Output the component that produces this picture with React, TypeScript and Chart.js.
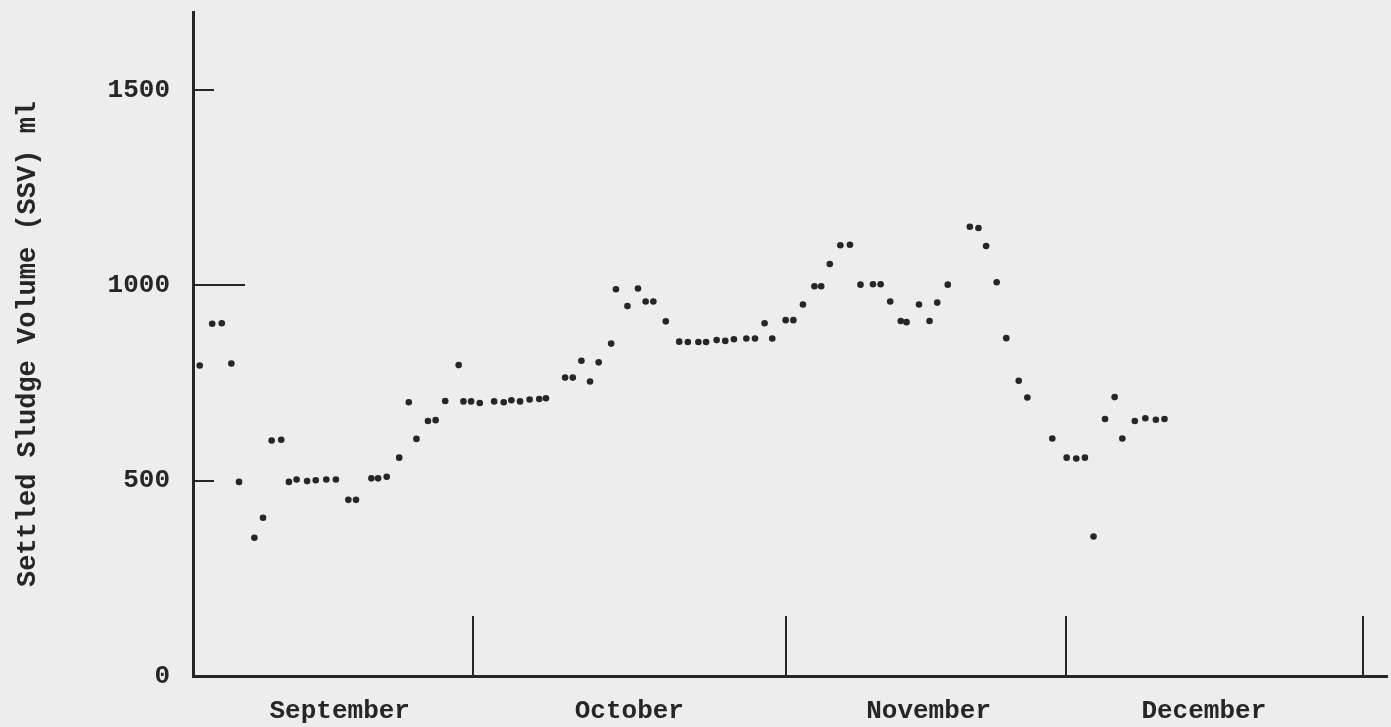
import React, { useEffect, useRef } from "react";
import { Chart, registerables } from "chart.js";

Chart.register(...registerables);

// Day offset from 1 September (x) and settled sludge volume in ml (y)
const DAYS = [
  0.7, 2.0, 3.0, 4.0, 4.8, 6.4, 7.3, 8.2, 9.2, 10.0, 10.8, 11.9, 12.8, 13.9, 14.9, 16.2, 17.0,
  18.6, 19.3, 20.2, 21.5, 22.5, 23.3, 24.5, 25.3, 26.3, 27.7, 28.2, 29.0, 29.9,
  31.4, 32.4, 33.2, 34.1, 35.1, 36.1, 36.8, 38.8, 39.6, 40.5, 41.4, 42.3, 43.6, 44.1,
  45.3, 46.4, 47.2, 48.0, 49.3, 50.7, 51.6, 52.7, 53.5, 54.6, 55.5, 56.4, 57.7, 58.6,
  59.6, 60.4, 61.8, 62.6, 63.6, 64.8, 65.5, 66.4, 67.5, 68.5, 69.6, 70.9, 71.7, 72.7,
  73.8, 74.4, 75.7, 76.8, 77.6, 78.7, 81.0, 81.9, 82.7, 83.8, 84.8, 86.1, 87.0, 89.6,
  91.1, 92.1, 93.0, 93.9, 95.1, 96.1, 96.9, 98.2, 99.3, 100.4, 101.3,
];
const SSV = [
  795, 902, 903, 800, 497, 354, 405, 603, 605, 497, 503, 499, 501, 503, 503, 451, 451,
  506, 506, 510, 559, 701, 607, 653, 655, 704, 796, 703, 703, 699,
  703, 701, 706, 703, 708, 709, 711, 764, 764, 807, 754, 803, 851, 990,
  947, 992, 959, 959, 908, 856, 855, 855, 855, 860, 858, 862, 864, 864,
  903, 864, 911, 911, 951, 998, 998, 1055, 1103, 1104, 1002, 1003, 1003, 959,
  909, 906, 951, 909, 956, 1002, 1150, 1147, 1101, 1008, 865, 756, 713, 608,
  559, 557, 559, 357, 658, 714, 608, 653, 660, 656, 658,
];

const Y_TICKS = [0, 500, 1000, 1500];
const REFERENCE_LEVEL = 1000;
const MONTHS = ["September", "October", "November", "December"];
const MONTH_LABEL_DAYS = [15.3, 45.5, 76.7, 105.4];
const MONTH_BOUNDARY_DAYS = [29.2, 61.8, 91.0, 122.0];

const Y_TITLE = "Settled Sludge Volume (SSV) ml";
const INK = "#262626";
const PAPER = "#ededed";
const FONT = "'Liberation Mono', 'DejaVu Sans Mono', monospace";

const axisMarks = {
  id: "axisMarks",
  afterDatasetsDraw(chart: any) {
    const { ctx, chartArea, scales } = chart;
    const x = scales.x;
    const y = scales.y;
    ctx.save();
    ctx.strokeStyle = INK;
    ctx.lineWidth = 2;
    ctx.beginPath();
    for (const v of Y_TICKS) {
      if (v === 0) continue;
      const py = Math.round(y.getPixelForValue(v));
      const len = v === REFERENCE_LEVEL ? 52 : 21;
      ctx.moveTo(chartArea.left, py);
      ctx.lineTo(chartArea.left + len, py);
    }
    for (const b of MONTH_BOUNDARY_DAYS) {
      const px = Math.round(x.getPixelForValue(b));
      ctx.moveTo(px, chartArea.bottom);
      ctx.lineTo(px, chartArea.bottom - 60);
    }
    ctx.stroke();
    ctx.restore();
  },
};

export default function App() {
  const canvasRef = useRef<HTMLCanvasElement | null>(null);

  useEffect(() => {
    const canvas = canvasRef.current;
    if (!canvas) return;
    const chart = new Chart(canvas, {
      type: "scatter",
      data: {
        datasets: [
          {
            label: "SSV",
            data: DAYS.map((d, i) => ({ x: d, y: SSV[i] })),
            pointRadius: 3.3,
            pointBackgroundColor: INK,
            pointBorderColor: INK,
            pointBorderWidth: 0,
            showLine: false,
          },
        ],
      },
      options: {
        responsive: false,
        animation: false,
        layout: { padding: { top: 12, right: 0, bottom: 0, left: 0 } },
        plugins: {
          legend: { display: false },
          tooltip: { enabled: false },
        },
        scales: {
          x: {
            type: "linear",
            min: 0,
            max: 124.5,
            grid: { display: false, drawTicks: false },
            border: { display: true, width: 3, color: INK },
            afterBuildTicks: (s: any) => {
              s.ticks = MONTH_LABEL_DAYS.map((v) => ({ value: v }));
            },
            ticks: {
              autoSkip: false,
              maxRotation: 0,
              minRotation: 0,
              padding: 20,
              color: INK,
              font: { family: FONT, size: 26, weight: "bold" },
              callback: (_v: any, i: number) => MONTHS[i],
            },
            afterFit: (s: any) => {
              s.height = 51;
              s.paddingLeft = 0;
              s.paddingRight = 0;
            },
          },
          y: {
            min: 0,
            max: 1700,
            grid: { display: false, drawTicks: false },
            border: { display: true, width: 3, color: INK },
            afterBuildTicks: (s: any) => {
              s.ticks = Y_TICKS.map((v) => ({ value: v }));
            },
            ticks: {
              padding: 23,
              color: INK,
              font: { family: FONT, size: 26, weight: "bold" },
              callback: (v: any) => String(v),
            },
            title: {
              display: true,
              text: Y_TITLE,
              color: INK,
              font: { family: FONT, size: 27, weight: "bold" },
              padding: { top: 12, bottom: 0 },
            },
            afterFit: (s: any) => {
              s.width = 193;
              s.paddingTop = 0;
              s.paddingBottom = 0;
            },
          },
        },
      },
      plugins: [axisMarks],
    } as any);
    return () => chart.destroy();
  }, []);

  return (
    <div
      style={{
        position: "absolute",
        left: 0,
        top: 0,
        width: 1391,
        height: 727,
        background: PAPER,
      }}
    >
      <canvas ref={canvasRef} width={1391} height={727} style={{ display: "block" }} />
    </div>
  );
}
